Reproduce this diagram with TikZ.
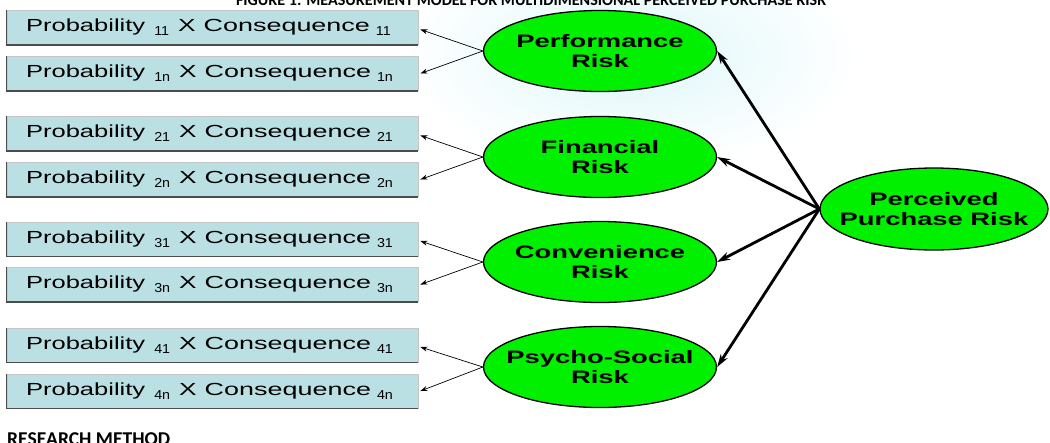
\documentclass[tikz,border=0pt]{standalone}
\usepackage{fontspec}
\setmainfont{Liberation Sans}
\newfontfamily\boxfont{Liberation Sans}
\newfontfamily\ellfont[FakeStretch=1.52]{Liberation Sans Bold}
\newfontfamily\capfont{Carlito}
\usetikzlibrary{arrows.meta,shapes.geometric}
\definecolor{boxfill}{RGB}{187,224,227}
\definecolor{riskgreen}{RGB}{0,240,0}
\definecolor{bgcyan}{RGB}{222,247,250}
\newcommand\subx[1]{\raisebox{-4pt}{\scalebox{1.1}[1]{\fontsize{13}{13}\selectfont #1}}}
\newcommand\pcline[1]{\scalebox{1.46}[1]{Probability}\hspace{9pt}\subx{#1}\hspace{9pt}\scalebox{1.5}[1]{X}\hspace{8pt}\scalebox{1.54}[1]{Consequence}\hspace{6pt}\subx{#1}}
\newcommand\zw[1]{\makebox[0pt]{#1}}
\tikzset{
  probbox/.style={rectangle, fill=boxfill, draw=gray!45, line width=0.8pt,
    minimum height=34pt, text width=373pt, inner xsep=19pt, inner ysep=0pt,
    align=left, font=\boxfont\fontsize{17.5}{19}\selectfont},
  boxedge/.style={draw=black!70, line width=1.3pt},
  riskell/.style={ellipse, fill=riskgreen, draw=black, line width=1.3pt,
    minimum width=233pt, minimum height=81pt, inner sep=0pt, align=center,
    font=\ellfont\fontsize{18}{20}\selectfont},
  thinarrow/.style={-{Stealth[length=7pt,width=5pt]}, line width=0.7pt},
  thickarrow/.style={-{Stealth[length=13pt,width=8pt]}, line width=2.8pt}
}
\begin{document}
\begin{tikzpicture}[x=1pt,y=-1pt]
\useasboundingbox (0,0) rectangle (1050,442);
\clip (0,0) rectangle (1050,442);
\fill[white] (0,0) rectangle (1050,442);
\shade[inner color=bgcyan, outer color=white] (400,-60) rectangle (860,170);

% caption (cut off at top)
\node[anchor=base, inner sep=0pt, font=\capfont\bfseries] (cap) at (531,5)
  {\resizebox{590pt}{!}{FIGURE 1: MEASUREMENT MODEL FOR MULTIDIMENSIONAL PERCEIVED PURCHASE RISK}};

% boxes
\node[probbox] (p11) at (212.5,27.5) {\pcline{11}};
\node[probbox] (p1n) at (212.5,73.5) {\pcline{1n}};
\node[probbox] (p21) at (212.5,133.5) {\pcline{21}};
\node[probbox] (p2n) at (212.5,179.5) {\pcline{2n}};
\node[probbox] (p31) at (212.5,239) {\pcline{31}};
\node[probbox] (p3n) at (212.5,284.5) {\pcline{3n}};
\node[probbox] (p41) at (212.5,345) {\pcline{41}};
\node[probbox] (p4n) at (212.5,391) {\pcline{4n}};
\foreach \b in {p11,p1n,p21,p2n,p31,p3n,p41,p4n}{
  \draw[boxedge] (\b.north west) -- (\b.south west) -- (\b.south east);
}

% risk ellipses
\node[riskell] (perf) at (600,51) {\zw{Performance}\\\zw{Risk}};
\node[riskell] (fin) at (600,157) {\zw{Financial}\\\zw{Risk}};
\node[riskell] (conv) at (600,262) {\zw{Convenience}\\\zw{Risk}};
\node[riskell] (psy) at (600,367) {\zw{Psycho-Social}\\\zw{Risk}};
\node[riskell, minimum width=228pt, minimum height=82pt] (ppr) at (934,209) {\zw{Perceived}\\\zw{Purchase Risk}};

% thin arrows
\draw[thinarrow] (perf.west) -- ([xshift=2pt,yshift=-2pt]p11.east);
\draw[thinarrow] (perf.west) -- ([xshift=2pt]p1n.east);
\draw[thinarrow] (fin.west) -- ([xshift=2pt,yshift=-2pt]p21.east);
\draw[thinarrow] (fin.west) -- ([xshift=2pt]p2n.east);
\draw[thinarrow] (conv.west) -- ([xshift=2pt,yshift=-2pt]p31.east);
\draw[thinarrow] (conv.west) -- ([xshift=2pt]p3n.east);
\draw[thinarrow] (psy.west) -- ([xshift=2pt,yshift=-2pt]p41.east);
\draw[thinarrow] (psy.west) -- ([xshift=2pt]p4n.east);

% thick arrows
\draw[thickarrow] (ppr.west) -- (perf.east);
\draw[thickarrow] (ppr.west) -- (fin.east);
\draw[thickarrow] (ppr.west) -- (conv.east);
\draw[thickarrow] (ppr.west) -- (psy.east);

% bottom heading (cut off)
\node[anchor=base west, inner sep=0pt, font=\capfont\bfseries] (rm) at (7,445)
  {\resizebox{163pt}{!}{RESEARCH METHOD}};
\end{tikzpicture}
\end{document}
